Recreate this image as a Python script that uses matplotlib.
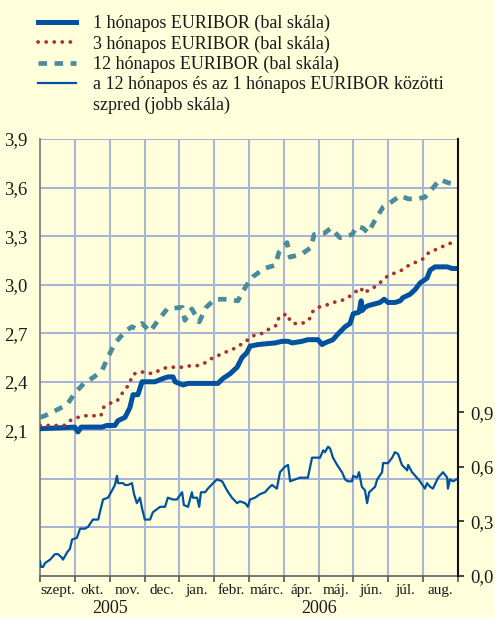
import matplotlib
matplotlib.use('Agg')
import matplotlib.pyplot as plt
from matplotlib.lines import Line2D
from matplotlib.ticker import FixedLocator, FuncFormatter
import matplotlib.transforms as mtransforms

# ---------------- data (x = months since 1 Sep 2005) ----------------
month_labels = ["szept.", "okt.", "nov.", "dec.", "jan.", "febr.", "márc.",
                "ápr.", "máj.", "jún.", "júl.", "aug."]
year_labels = ["2005", "2006"]
year_pos = [2.0, 8.0]

m1_x = [0.0, 1.00, 1.09, 1.18, 1.78, 1.92, 2.15, 2.24, 2.44, 2.58, 2.67, 2.81, 2.93,
        3.30, 3.53, 3.67, 3.82, 3.88, 4.11, 4.25, 5.11, 5.25, 5.46, 5.66, 5.80, 5.94,
        6.03, 6.26, 6.75, 6.95, 7.12, 7.24, 7.52, 7.69, 7.81, 7.98, 8.10, 8.18, 8.41,
        8.53, 8.76, 8.90, 8.99, 9.16, 9.22, 9.25, 9.33, 9.42, 9.76, 9.88, 9.99, 10.19,
        10.34, 10.42, 10.62, 10.77, 10.91, 11.11, 11.20, 11.34, 11.69, 11.83, 11.97]
m1_y = [2.11, 2.12, 2.09, 2.12, 2.12, 2.13, 2.13, 2.16, 2.18, 2.24, 2.32, 2.32, 2.40,
        2.40, 2.42, 2.43, 2.43, 2.40, 2.38, 2.39, 2.39, 2.42, 2.45, 2.49, 2.55, 2.58,
        2.62, 2.63, 2.64, 2.65, 2.65, 2.64, 2.65, 2.66, 2.66, 2.66, 2.63, 2.64, 2.66,
        2.69, 2.74, 2.76, 2.82, 2.83, 2.90, 2.84, 2.86, 2.87, 2.89, 2.91, 2.89, 2.89,
        2.90, 2.92, 2.94, 2.97, 3.01, 3.04, 3.09, 3.11, 3.11, 3.10, 3.10]

m3_x = [0.0, 0.20, 0.46, 0.69, 0.86, 1.09, 1.32, 1.55, 1.75, 1.81, 2.04, 2.21, 2.33,
        2.47, 2.58, 2.64, 2.81, 2.99, 3.22, 3.42, 3.65, 3.88, 4.11, 4.34, 4.54, 4.77,
        4.97, 5.20, 5.40, 5.63, 5.97, 6.17, 6.40, 6.60, 6.80, 6.86, 7.09, 7.15, 7.26,
        7.52, 7.72, 7.81, 7.98, 8.18, 8.41, 8.64, 8.84, 9.02, 9.22, 9.27, 9.50, 9.70,
        9.85, 9.96, 10.16, 10.39, 10.59, 10.80, 11.00, 11.17, 11.40, 11.60, 11.83, 11.95]
m3_y = [2.13, 2.13, 2.13, 2.13, 2.16, 2.18, 2.19, 2.19, 2.19, 2.24, 2.27, 2.28, 2.32,
        2.36, 2.39, 2.44, 2.46, 2.46, 2.45, 2.47, 2.49, 2.49, 2.49, 2.50, 2.50, 2.52,
        2.55, 2.57, 2.59, 2.61, 2.66, 2.69, 2.70, 2.73, 2.75, 2.80, 2.82, 2.79, 2.76,
        2.76, 2.78, 2.83, 2.86, 2.87, 2.89, 2.90, 2.92, 2.95, 2.98, 2.95, 2.97, 3.00,
        3.03, 3.05, 3.07, 3.09, 3.12, 3.14, 3.16, 3.20, 3.22, 3.24, 3.26, 3.26]

m12_x = [0.0, 0.14, 0.52, 0.78, 1.00, 1.26, 1.55, 1.78, 1.95, 2.15, 2.24, 2.44, 2.64,
         2.73, 2.93, 3.16, 3.39, 3.65, 4.08, 4.16, 4.36, 4.57, 4.77, 5.02, 5.40, 5.68,
         5.91, 6.12, 6.43, 6.75, 6.86, 7.09, 7.18, 7.52, 7.78, 7.87, 8.18, 8.35, 8.61,
         8.96, 9.10, 9.27, 9.42, 9.62, 9.85, 10.08, 10.34, 10.57, 10.80, 11.05, 11.25,
         11.48, 11.71, 11.92]
m12_y = [2.18, 2.19, 2.23, 2.26, 2.33, 2.39, 2.43, 2.47, 2.55, 2.64, 2.66, 2.71, 2.74,
         2.73, 2.76, 2.71, 2.78, 2.85, 2.86, 2.78, 2.85, 2.77, 2.86, 2.91, 2.91, 2.90,
         2.99, 3.05, 3.10, 3.12, 3.20, 3.26, 3.17, 3.19, 3.23, 3.31, 3.32, 3.35, 3.29,
         3.31, 3.36, 3.35, 3.32, 3.40, 3.48, 3.51, 3.55, 3.53, 3.53, 3.54, 3.59,
         3.65, 3.63, 3.62]

sp_x = [0.0, 0.03, 0.09, 0.14, 0.29, 0.43, 0.52, 0.63, 0.66, 0.78,
        0.86, 0.92, 1.06, 1.15, 1.29, 1.38, 1.52, 1.67, 1.72, 1.81,
        1.95, 2.07, 2.15, 2.21, 2.24, 2.38, 2.44, 2.53, 2.64, 2.70,
        2.78, 2.87, 2.93, 3.01, 3.16, 3.24, 3.45, 3.59, 3.67, 3.82,
        3.93, 4.08, 4.13, 4.25, 4.36, 4.39, 4.51, 4.57, 4.62, 4.74,
        4.82, 4.97, 5.08, 5.23, 5.37, 5.51, 5.66, 5.74, 5.89, 5.97,
        6.03, 6.17, 6.32, 6.46, 6.55, 6.66, 6.80, 6.89, 7.03, 7.12,
        7.18, 7.32, 7.46, 7.61, 7.69, 7.81, 7.95, 8.04, 8.13, 8.18,
        8.27, 8.33, 8.41, 8.53, 8.67, 8.76, 8.84, 8.96, 8.99, 9.10,
        9.16, 9.24, 9.33, 9.39, 9.45, 9.62, 9.68, 9.82, 9.85, 9.99,
        10.11, 10.19, 10.28, 10.39, 10.54, 10.57, 10.68, 10.82, 10.91, 11.05,
        11.11, 11.20, 11.28, 11.43, 11.57, 11.69, 11.71, 11.77, 11.86, 11.95]
sp_y = [0.08, 0.05, 0.05, 0.07, 0.09, 0.12, 0.12, 0.10, 0.09, 0.13,
        0.15, 0.20, 0.21, 0.26, 0.26, 0.27, 0.31, 0.31, 0.35, 0.42,
        0.43, 0.47, 0.50, 0.55, 0.51, 0.51, 0.50, 0.50, 0.51, 0.45,
        0.40, 0.43, 0.37, 0.31, 0.31, 0.35, 0.38, 0.38, 0.43, 0.42,
        0.42, 0.46, 0.39, 0.38, 0.46, 0.43, 0.43, 0.38, 0.46, 0.46,
        0.48, 0.51, 0.53, 0.52, 0.47, 0.43, 0.40, 0.41, 0.40, 0.38,
        0.42, 0.43, 0.45, 0.46, 0.48, 0.50, 0.48, 0.57, 0.60, 0.61,
        0.52, 0.53, 0.54, 0.54, 0.54, 0.65, 0.65, 0.65, 0.69, 0.68,
        0.71, 0.70, 0.65, 0.61, 0.57, 0.53, 0.52, 0.52, 0.55, 0.54,
        0.57, 0.49, 0.47, 0.40, 0.46, 0.49, 0.53, 0.57, 0.62, 0.62,
        0.65, 0.68, 0.67, 0.61, 0.58, 0.61, 0.57, 0.54, 0.52, 0.48,
        0.51, 0.49, 0.48, 0.54, 0.57, 0.54, 0.48, 0.53, 0.52, 0.53]

legend_labels = ["1 hónapos EURIBOR (bal skála)",
                 "3 hónapos EURIBOR (bal skála)",
                 "12 hónapos EURIBOR (bal skála)",
                 "a 12 hónapos és az 1 hónapos EURIBOR közötti",
                 "szpred (jobb skála)"]

left_ticks = [1.2, 1.5, 1.8, 2.1, 2.4, 2.7, 3.0, 3.3, 3.6, 3.9]
right_ticks = [0.0, 0.3, 0.6, 0.9]

# ---------------- styling ----------------
BG = '#FFFFDC'
TXT = '#1a1a1a'
C1 = '#0052A0'
C3 = '#A83232'
C12 = '#4A8C9E'
HGRID = '#8E9CDD'
VGRID = '#A9B7D3'
FONT = 'Liberation Serif'

plt.rcParams['font.family'] = [FONT, 'DejaVu Serif']

fig = plt.figure(figsize=(4.95, 6.17), dpi=100, facecolor=BG)
ax = fig.add_axes([40 / 495, 41 / 617, 418 / 495, 437 / 617])
ax.set_facecolor(BG)
ax2 = ax.twinx()

ax.set_xlim(0, 12)
ax.set_ylim(1.2, 3.9)
ax2.set_ylim(0, 2.4)

# grid
for v in left_ticks[1:]:
    ax.axhline(v, color=HGRID, lw=1.1, zorder=0.5)
for m in range(1, 12):
    ax.axvline(m, color=VGRID, lw=1.5, zorder=0.5)

l1, = ax.plot(m1_x, m1_y, color=C1, lw=3.6, solid_joinstyle='round', zorder=3)
l3, = ax.plot(m3_x, m3_y, color=C3, lw=2.7, linestyle=(0, (0.05, 2.1)),
              dash_capstyle='round', zorder=3)
l12, = ax.plot(m12_x, m12_y, color=C12, lw=3.4, linestyle=(0, (1.8, 1.6)),
               dash_capstyle='butt', zorder=3)
ls, = ax2.plot(sp_x, sp_y, color=C1, lw=1.6, solid_joinstyle='round', zorder=3)

# left axis
ax.yaxis.set_major_locator(FixedLocator(left_ticks))
ax.yaxis.set_major_formatter(FuncFormatter(
    lambda v, p: (f"{v:.1f}".replace('.', ',') if v >= 2.05 else "")))
ax.tick_params(axis='y', which='major', length=0, pad=9, labelsize=13.5,
               labelcolor=TXT)

# right axis
ax2.yaxis.set_major_locator(FixedLocator(right_ticks))
ax2.yaxis.set_major_formatter(FuncFormatter(lambda v, p: f"{v:.1f}".replace('.', ',')))
ax2.tick_params(axis='y', which='major', direction='out', length=4, width=1.2,
                pad=5, labelsize=13.5, labelcolor=TXT, color='#222222')

# x axis
ax.xaxis.set_major_locator(FixedLocator(list(range(0, 13))))
ax.xaxis.set_major_formatter(FuncFormatter(lambda v, p: ""))
ax.xaxis.set_minor_locator(FixedLocator([i + 0.5 for i in range(12)]))
ax.xaxis.set_minor_formatter(FuncFormatter(lambda v, p: month_labels[int(v)]))
ax.tick_params(axis='x', which='major', direction='out', length=4, width=1.2,
               color='#555555')
ax.tick_params(axis='x', which='minor', length=0, pad=6, labelsize=11,
               labelcolor=TXT)
ax2.tick_params(axis='x', which='both', length=0)

trans = mtransforms.blended_transform_factory(ax.transData, ax.transAxes)
for lab, pos in zip(year_labels, year_pos):
    ax.text(pos, -0.075, lab, transform=trans, ha='center', va='center',
            fontsize=13, color=TXT)

# spines
for a in (ax, ax2):
    a.spines['top'].set_visible(False)
ax.spines['left'].set_color('#808080')
ax.spines['left'].set_linewidth(1.3)
ax.spines['bottom'].set_color('#606060')
ax.spines['bottom'].set_linewidth(1.2)
ax2.spines['right'].set_color('#111111')
ax2.spines['right'].set_linewidth(1.5)
ax2.spines['left'].set_visible(False)
ax2.spines['bottom'].set_visible(False)
ax.spines['right'].set_visible(False)

# legend
blank = Line2D([], [], color='none')
leg = ax2.legend([l1, l3, l12, ls, blank], legend_labels,
                 loc='upper left', bbox_to_anchor=(38 / 495, 1 - 15 / 617),
                 bbox_transform=fig.transFigure, frameon=False,
                 handlelength=2.1, handletextpad=0.95, labelspacing=0.17,
                 borderpad=0, borderaxespad=0, prop={'family': FONT, 'size': 13})
for t in leg.get_texts():
    t.set_color(TXT)

fig.savefig('out.png', dpi=100, facecolor=BG)
